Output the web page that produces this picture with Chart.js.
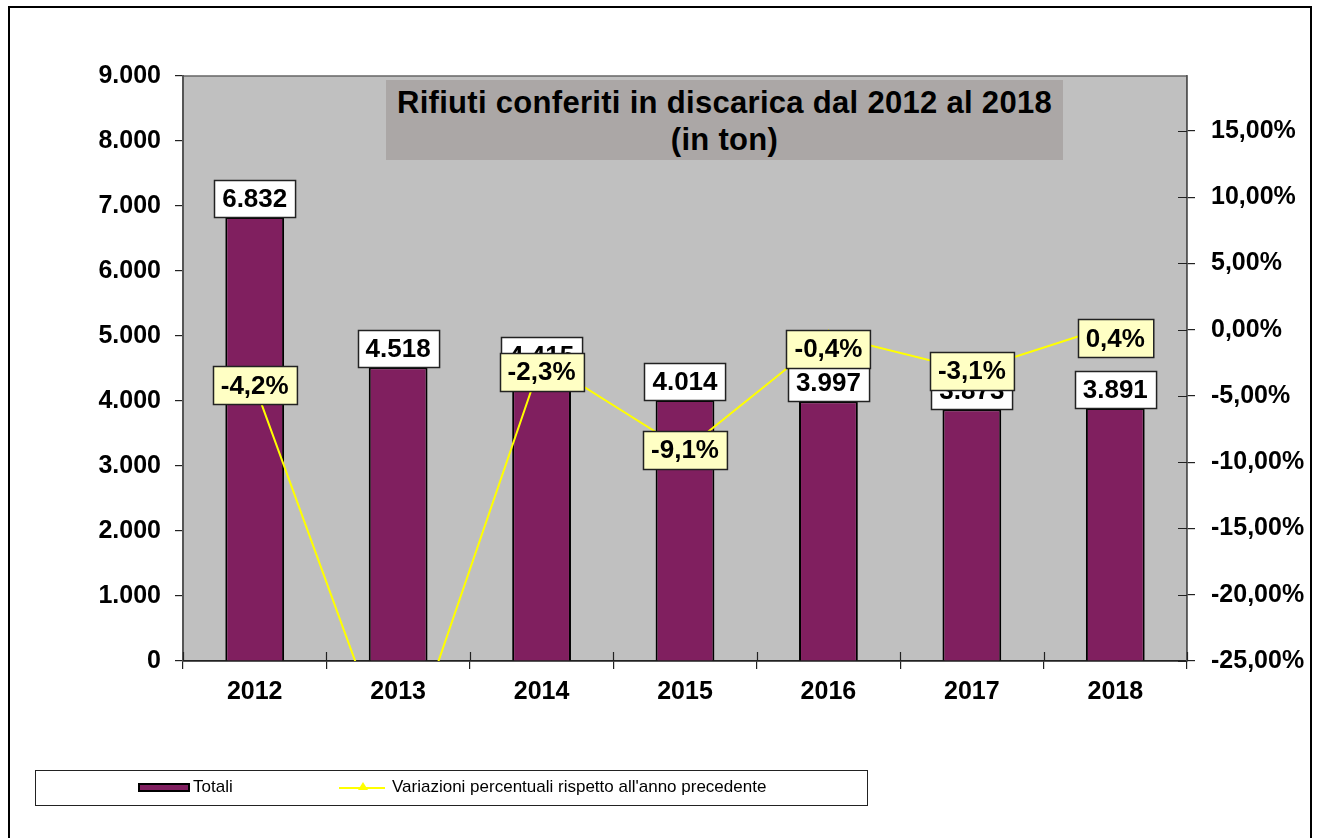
<!DOCTYPE html>
<html>
<head>
<meta charset="utf-8">
<script src="https://cdn.jsdelivr.net/npm/chart.js@4.4.1/dist/chart.umd.min.js"></script>
<style>
  body { margin: 0; background: #fff; font-family: "Liberation Sans", Arial, sans-serif; }
  #wrap { position: relative; width: 1321px; height: 838px; }
  #frame { position: absolute; left: 8px; top: 6px; width: 1304px; height: 840px; border: 2px solid #000; box-sizing: border-box; }
  #title { position: absolute; left: 386px; top: 80px; width: 677px; height: 80px; background: #aba7a6;
           font-weight: bold; font-size: 31px; line-height: 37px; text-align: center; padding-top: 4px; box-sizing: border-box;
           letter-spacing: 0.3px; }
  #legend { position: absolute; left: 35px; top: 770px; width: 833px; height: 36px; border: 1.5px solid #222; box-sizing: border-box;
            font-size: 17px; background: #fff; }
  .sw-bar { position: absolute; left: 102px; top: 12px; width: 52px; height: 9px; background: #801f5f; border: 2px solid #000; box-sizing: border-box; }
  .lab1 { position: absolute; left: 157px; top: 6px; }
  .sw-line { position: absolute; left: 303px; top: 16px; width: 46px; height: 2px; background: #ffff00; }
  .sw-tri { position: absolute; left: 322px; top: 11px; width: 0; height: 0; border-left: 5px solid transparent; border-right: 5px solid transparent; border-bottom: 8px solid #ffff00; }
  .lab2 { position: absolute; left: 356px; top: 6px; }
  canvas { position: absolute; left: 0; top: 0; }
</style>
</head>
<body>
<div id="wrap">
  <canvas id="chart" width="1321" height="838"></canvas>
  <div id="frame"></div>
  <div id="title">Rifiuti conferiti in discarica dal 2012 al 2018<br>(in ton)</div>
  <div id="legend">
    <div class="sw-bar"></div><span class="lab1">Totali</span>
    <div class="sw-line"></div><div class="sw-tri"></div><span class="lab2">Variazioni percentuali rispetto all'anno precedente</span>
  </div>
</div>
<script>
const years = ['2012', '2013', '2014', '2015', '2016', '2017', '2018'];
const totali = [6832, 4518, 4415, 4014, 3997, 3873, 3891];
const variazioni = [-4.2, -33.9, -2.3, -9.1, -0.4, -3.1, 0.4];
const leftTicks = [0, 1000, 2000, 3000, 4000, 5000, 6000, 7000, 8000, 9000];
const rightTicks = [-25, -20, -15, -10, -5, 0, 5, 10, 15];
const rightMax = 19.15;

const FONT = '"Liberation Sans", Arial, sans-serif';

function fmtThousands(v) {
    return String(v).replace(/\B(?=(\d{3})+(?!\d))/g, '.');
}
function fmtPct2(v) {
    return v.toFixed(2).replace('.', ',') + '%';
}
function fmtPct1(v) {
    return v.toFixed(1).replace('.', ',') + '%';
}

// grey plot area + the inner half of the tick marks
const plotArea = {
    id: 'plotArea',
    beforeDraw(chart) {
        const { ctx, chartArea: a } = chart;
        ctx.save();
        ctx.fillStyle = '#c0c0c0';
        ctx.fillRect(a.left, a.top, a.right - a.left, a.bottom - a.top);
        ctx.strokeStyle = '#666';
        ctx.lineWidth = 1.5;
        ctx.strokeRect(a.left, a.top, a.right - a.left, a.bottom - a.top);
        ctx.restore();
    },
    beforeDatasetsDraw(chart) {
        const { ctx, chartArea: a, scales } = chart;
        ctx.save();
        ctx.strokeStyle = '#222';
        ctx.lineWidth = 1.2;
        ctx.beginPath();
        const w = (a.right - a.left) / years.length;
        for (let i = 0; i <= years.length; i++) {
            const x = Math.round(a.left + i * w) + 0.5;
            ctx.moveTo(x, a.bottom);
            ctx.lineTo(x, a.bottom - 9);
        }
        rightTicks.forEach(t => {
            const y = Math.round(scales.y1.getPixelForValue(t)) + 0.5;
            ctx.moveTo(a.right, y);
            ctx.lineTo(a.right - 9, y);
        });
        ctx.stroke();
        ctx.restore();
    }
};

function labelBox(ctx, text, cx, top, h, fill) {
    ctx.font = 'bold 26px ' + FONT;
    const w = ctx.measureText(text).width + 16;
    const x = Math.round(cx - w / 2) + 0.5;
    const y = Math.round(top) + 0.5;
    ctx.fillStyle = fill;
    ctx.fillRect(x, y, w, h);
    ctx.strokeStyle = '#222';
    ctx.lineWidth = 1.5;
    ctx.strokeRect(x, y, w, h);
    ctx.fillStyle = '#000';
    ctx.textAlign = 'center';
    ctx.textBaseline = 'middle';
    ctx.fillText(text, cx, top + h / 2 + 1);
}

// where the spreadsheet left a few percentage labels a bit lower than their point
const pctLabelShift = [0, 0, 12, 0, 14, 0, 14];

const valueLabels = {
    id: 'valueLabels',
    afterDatasetsDraw(chart) {
        const { ctx, chartArea: a } = chart;
        ctx.save();
        chart.getDatasetMeta(0).data.forEach((el, i) => {
            labelBox(ctx, fmtThousands(totali[i]), el.x, el.y - 37, 37, '#ffffff');
        });
        chart.getDatasetMeta(1).data.forEach((el, i) => {
            if (el.y > a.bottom || el.y < a.top) return;
            labelBox(ctx, fmtPct1(variazioni[i]), el.x, el.y - 19 + pctLabelShift[i], 38, '#ffffc4');
        });
        ctx.restore();
    }
};

const ctx = document.getElementById('chart').getContext('2d');
new Chart(ctx, {
    type: 'bar',
    data: {
        labels: years,
        datasets: [{
            label: 'Totali',
            data: totali,
            backgroundColor: '#801f5f',
            borderColor: '#000',
            borderWidth: 2,
            barPercentage: 0.41,
            categoryPercentage: 1,
            yAxisID: 'y',
            order: 1
        }, {
            type: 'line',
            label: "Variazioni percentuali rispetto all'anno precedente",
            data: variazioni,
            borderColor: '#ffff00',
            backgroundColor: '#ffff00',
            borderWidth: 2,
            pointStyle: 'triangle',
            pointRadius: 4,
            tension: 0,
            yAxisID: 'y1',
            order: 0
        }]
    },
    options: {
        responsive: false,
        animation: false,
        layout: { padding: { top: 76, bottom: 127, left: 0, right: 0 } },
        plugins: {
            legend: { display: false },
            tooltip: { enabled: false }
        },
        scales: {
            x: {
                grid: { display: true, drawOnChartArea: false, offset: true, tickLength: 8, color: '#222', lineWidth: 1.2 },
                border: { color: '#222', width: 1.5 },
                ticks: { color: '#000', font: { family: FONT, size: 25, weight: 'bold' }, padding: 8 },
                afterFit(scale) { scale.height = 50; }
            },
            y: {
                position: 'left',
                min: 0,
                max: 9000,
                afterBuildTicks(scale) { scale.ticks = leftTicks.map(v => ({ value: v })); },
                grid: { drawOnChartArea: false, tickLength: 8, color: '#222', lineWidth: 1.2 },
                border: { color: '#555', width: 2 },
                ticks: { color: '#000', font: { family: FONT, size: 25, weight: 'bold' }, padding: 14,
                         callback: v => fmtThousands(v) },
                afterFit(scale) { scale.width = 183; }
            },
            y1: {
                position: 'right',
                min: -25,
                max: rightMax,
                afterBuildTicks(scale) { scale.ticks = rightTicks.map(v => ({ value: v })); },
                grid: { drawOnChartArea: false, tickLength: 8, color: '#222', lineWidth: 1.2 },
                border: { color: '#555', width: 1.5 },
                ticks: { color: '#000', font: { family: FONT, size: 25, weight: 'bold' }, padding: 16,
                         callback: v => fmtPct2(v) },
                afterFit(scale) { scale.width = 134; }
            }
        }
    },
    plugins: [plotArea, valueLabels]
});
</script>
</body>
</html>
